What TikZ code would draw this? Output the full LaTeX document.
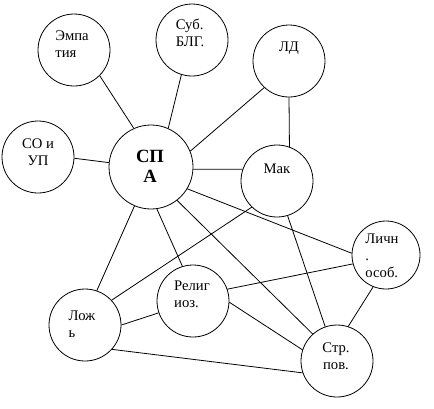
\documentclass[tikz,border=0pt]{standalone}
\usepackage{fontspec}
\setmainfont{Liberation Serif}
\newfontfamily\lserif{Liberation Serif}
\usepackage{tikz}
\usetikzlibrary{positioning}

\begin{document}
\begin{tikzpicture}[x=0.75pt, y=-0.75pt, line width=0.6pt,
  bub/.style={circle, draw, minimum size=54pt, inner sep=0pt},
  txt/.style={inner sep=0pt, font=\lserif\fontsize{11}{12.8}\selectfont, align=left},
  ctxt/.style={txt, align=center}]
\useasboundingbox (0,0) rectangle (434,408);

\node[bub] (emp) at (74,50) {};
\node[bub] (sub) at (192,40) {};
\node[bub] (ld) at (289,61) {};
\node[bub] (so) at (38,157) {};
\node[bub, minimum size=63pt] (spa) at (151,167) {};
\node[bub] (mak) at (277,181) {};
\node[bub, minimum size=51pt] (lich) at (386,255) {};
\node[bub] (rel) at (193,301) {};
\node[bub] (lozh) at (85,325) {};
\node[bub] (str) at (337,361) {};

\node[txt] (emp-t) at (72,44) {Эмпа\\тия};
\node[txt] (sub-t) at (190,33) {Суб.\\БЛГ.};
\node[txt] (ld-t) at (289,48) {ЛД};
\node[ctxt] (so-t) at (38,152) {СО и\\УП};
\node[ctxt, font=\lserif\fontsize{14}{15}\selectfont\bfseries] (spa-t) at (150,166) {СП\\А};
\node[txt] (mak-t) at (277,169) {Мак};
\node[txt] (lich-t) at (382,256) {Личн\\.\\особ.};
\node[txt] (rel-t) at (192,294) {Религ\\иоз.};
\node[txt] (lozh-t) at (82,324) {Лож\\ь};
\node[ctxt] (str-t) at (336,356) {Стр.\\пов.};

\draw (emp.315) -- (spa.114);
\draw (sub.253) -- (spa.66);
\draw (ld.227) -- (spa.22);
\draw (so.358) -- (spa.174);
\draw (spa.357) -- (mak.161);
\draw (ld.270) -- (mak.70);
\draw (spa.247) -- (lozh.71);
\draw (spa.278) -- (rel.107);
\draw (spa.329) -- (lich.177);
\draw (spa.308) -- (str.132);
\draw (mak.226) -- (lozh.43);
\draw (mak.287) -- (str.109);
\draw (rel.19) -- (lich.195);
\draw (rel.358) -- (str.162);
\draw (lozh.0) -- (rel.199);
\draw (lozh.318) -- (str.199);
\draw (lich.248) -- (str.72);
\end{tikzpicture}
\end{document}
